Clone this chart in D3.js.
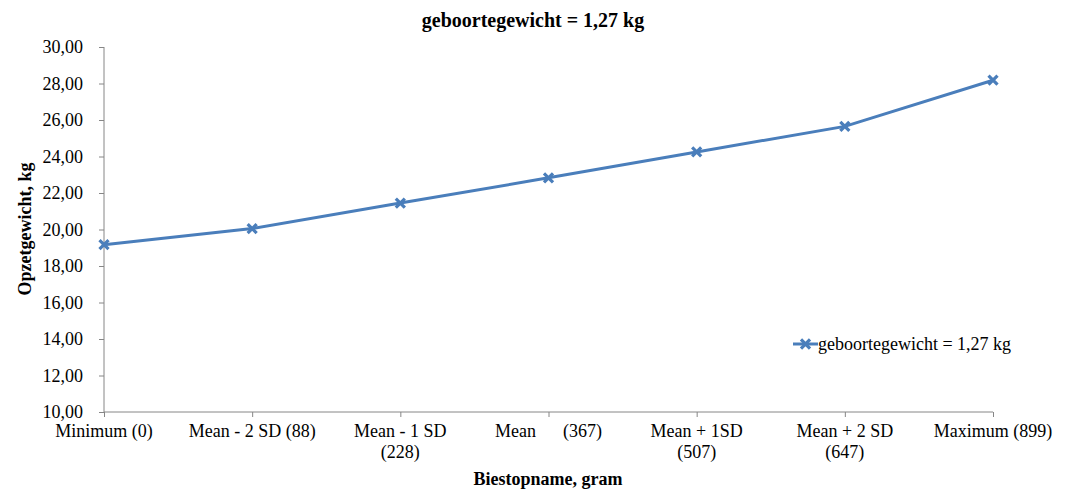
<!DOCTYPE html>
<html><head><meta charset="utf-8">
<script src="https://cdn.jsdelivr.net/npm/d3@7"></script>
<style>
body{margin:0;background:#fff;}
svg text{font-family:"Times New Roman","Liberation Serif","DejaVu Serif",serif !important;fill:#000;}
</style></head>
<body>
<svg id="c" width="1067" height="492"></svg>
<script>
const categories = [["Minimum (0)"],["Mean - 2 SD (88)"],["Mean - 1 SD","(228)"],["Mean      (367)"],["Mean + 1SD","(507)"],["Mean + 2 SD","(647)"],["Maximum (899)"]];
const values = [19.17, 20.05, 21.45, 22.83, 24.25, 25.65, 28.18];
const yTicks = [10,12,14,16,18,20,22,24,26,28,30];
const seriesName = "geboortegewicht = 1,27 kg";
const title = "geboortegewicht = 1,27 kg";
const xTitle = "Biestopname, gram";
const yTitle = "Opzetgewicht, kg";

const svg = d3.select("#c");
const L=104,R=993,T=47,B=412;
const color="#4A7EBB";
const x = d3.scalePoint().domain(d3.range(categories.length)).range([L,R]).padding(0);
const y = d3.scaleLinear().domain([10,30]).range([B,T]);
const fmt = v => v.toFixed(2).replace(".",",");

// y axis
const ya = svg.append("g").attr("transform",`translate(${L},0)`)
  .call(d3.axisLeft(y).tickValues(yTicks).tickFormat(fmt).tickSize(5).tickPadding(16));
ya.attr("font-family",null).attr("font-size",null);
ya.selectAll("path,line").attr("stroke","#868686");
ya.select("path").attr("d",`M0,${B}V${T}`);
ya.selectAll("text").style("font-size","18px").attr("fill","#000");

// x axis
const xa = svg.append("g").attr("transform",`translate(0,${B})`)
  .call(d3.axisBottom(x).tickSize(5).tickFormat(""));
xa.selectAll("path,line").attr("stroke","#868686");
xa.select("path").attr("d",`M${L},0H${R}`);
categories.forEach((lines,i)=>{
  const t = svg.append("text").attr("x",x(i)).attr("y",B+25)
    .attr("text-anchor","middle").style("font-size","18px").style("white-space","pre");
  lines.forEach((s,j)=>t.append("tspan").attr("x",x(i)).attr("dy",j===0?0:21).text(s));
});

// line
const line = d3.line().x((d,i)=>x(i)).y(d=>y(d));
svg.append("path").datum(values).attr("d",line).attr("fill","none")
  .attr("stroke",color).attr("stroke-width",3);
const mk = d3.symbol().type(d3.symbolX).size(55);
svg.selectAll(".m").data(values).enter().append("path")
  .attr("d",mk).attr("transform",(d,i)=>`translate(${x(i)},${y(d)})`)
  .attr("stroke",color).attr("stroke-width",3.2).attr("fill","none");

// titles
svg.append("text").attr("x",533).attr("y",27).attr("text-anchor","middle")
  .style("font-size","20px").style("font-weight","bold").text(title);
svg.append("text").attr("x",548).attr("y",485).attr("text-anchor","middle")
  .style("font-size","18px").style("font-weight","bold").text(xTitle);
svg.append("text").attr("transform","translate(31,229) rotate(-90)").attr("text-anchor","middle")
  .style("font-size","18px").style("font-weight","bold").text(yTitle);

// legend
const lg = svg.append("g");
lg.append("line").attr("x1",793).attr("x2",818).attr("y1",344).attr("y2",344)
  .attr("stroke",color).attr("stroke-width",3);
lg.append("path").attr("d",mk).attr("transform","translate(805.5,344)")
  .attr("stroke",color).attr("stroke-width",3.2).attr("fill","none");
lg.append("text").attr("x",818).attr("y",349.5).style("font-size","18px").text(seriesName);
</script>
</body></html>
